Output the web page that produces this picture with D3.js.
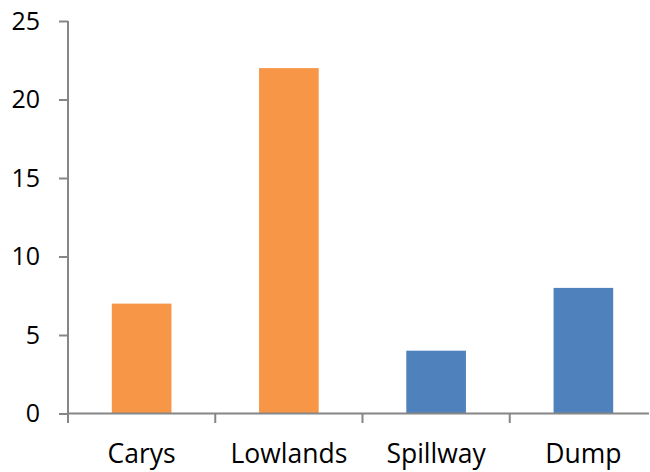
<!DOCTYPE html>
<html>
<head>
<meta charset="utf-8">
<script src="https://cdn.jsdelivr.net/npm/d3@7"></script>
<style>
  body { margin: 0; background: #fff; }
  text { font-family: "Open Sans", sans-serif; fill: #000; }
</style>
</head>
<body>
<div id="chart"></div>
<script>
const categories = ["Carys", "Lowlands", "Spillway", "Dump"];
const values = [7, 22, 4, 8];
const barColors = ["#F79646", "#F79646", "#4F81BD", "#4F81BD"];
const yTicks = [0, 5, 10, 15, 20, 25];

const width = 650;
const height = 472;
const margin = { top: 21, right: 1, bottom: 58.5, left: 68 };
const innerWidth = width - margin.left - margin.right;
const innerHeight = height - margin.top - margin.bottom;
const axisColor = "#868686";

const svg = d3.select("#chart").append("svg")
  .attr("width", width)
  .attr("height", height);

const g = svg.append("g")
  .attr("transform", `translate(${margin.left},${margin.top})`);

// category bands, ~147px each
const x = d3.scaleBand()
  .domain(categories)
  .range([0, 589])
  .padding(0);

const y = d3.scaleLinear()
  .domain([0, 25])
  .range([innerHeight, 0]);

const barW = x.bandwidth() * 0.405;

g.selectAll("rect.bar")
  .data(categories)
  .join("rect")
  .attr("class", "bar")
  .attr("x", d => x(d) + (x.bandwidth() - barW) / 2)
  .attr("y", (d, i) => y(values[i]))
  .attr("width", barW)
  .attr("height", (d, i) => innerHeight - y(values[i]))
  .attr("fill", (d, i) => barColors[i]);

// y axis
const yAxis = g.append("g")
  .call(d3.axisLeft(y).tickValues(yTicks).tickSize(9).tickPadding(19));
yAxis.select(".domain").attr("stroke", axisColor).attr("stroke-width", 2)
  .attr("d", `M0,0V${innerHeight + 9.5}`);
yAxis.selectAll(".tick line").attr("stroke", axisColor).attr("stroke-width", 2);
yAxis.selectAll("text")
  .style("font-family", "'Open Sans', sans-serif")
  .style("font-size", "25px")
  .attr("fill", "#000");

// x axis line
const xAxis = g.append("g").attr("transform", `translate(0,${innerHeight})`);
xAxis.append("line")
  .attr("x1", 0).attr("x2", innerWidth)
  .attr("stroke", axisColor).attr("stroke-width", 2);

// category boundary ticks
const boundaries = categories.map(d => x(d)).concat([x.range()[1]]);
xAxis.selectAll("line.tick")
  .data(boundaries.slice(1, 4))
  .join("line")
  .attr("class", "tick")
  .attr("x1", d => d).attr("x2", d => d)
  .attr("y1", 0).attr("y2", 9.5)
  .attr("stroke", axisColor).attr("stroke-width", 2);

xAxis.selectAll("text.cat")
  .data(categories)
  .join("text")
  .attr("class", "cat")
  .attr("x", d => x(d) + x.bandwidth() / 2)
  .attr("y", 49.5)
  .attr("text-anchor", "middle")
  .style("font-size", "26.5px")
  .text(d => d);
</script>
</body>
</html>
